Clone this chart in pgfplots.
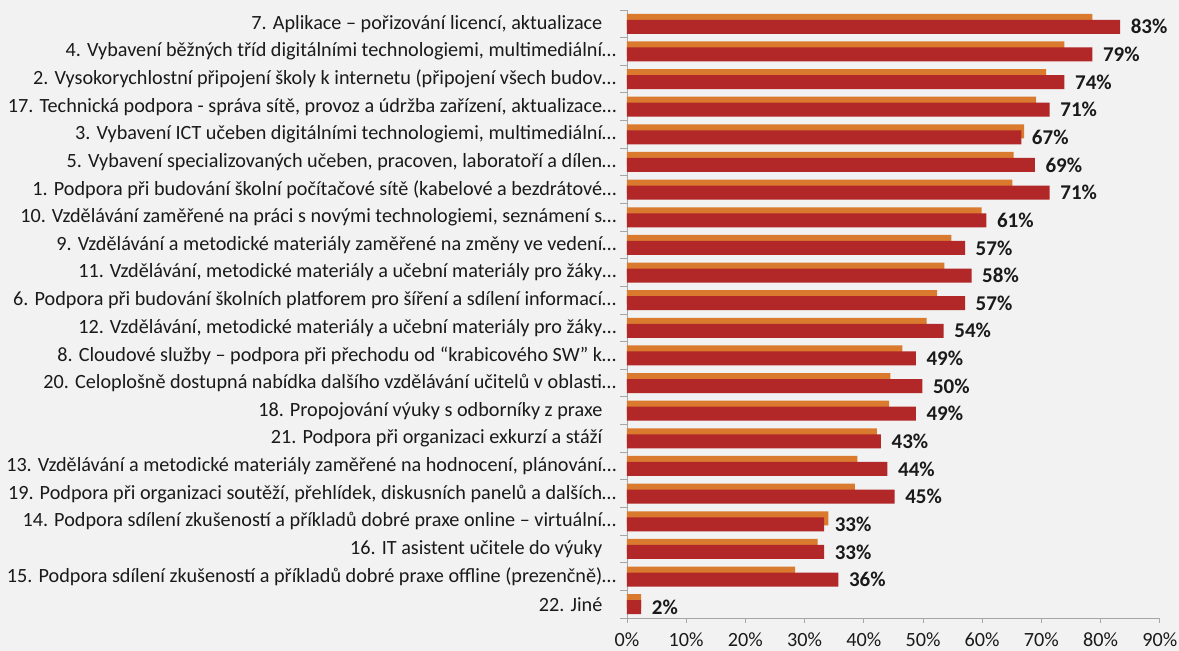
\documentclass[border=0pt]{standalone}
\usepackage{pgfplots}
\pgfplotsset{compat=1.18}
\usepackage{pgfplotstable}
\usepackage{fontspec}
\setmainfont{Carlito}
\definecolor{bg}{HTML}{F2F2F2}
\definecolor{orng}{HTML}{D97A2E}
\definecolor{rd}{HTML}{B22727}
\definecolor{axgray}{HTML}{A6A6A6}
\definecolor{txt}{HTML}{1A1A1A}
\newcommand\fs{\fontsize{20.2}{24}\selectfont}
\newcommand\fb{\fontsize{21}{25}\selectfont\bfseries}

\pgfplotstableread{
y org red lbl
21 78.6 83.3 83
20 73.9 78.6 79
19 70.8 73.9 74
18 69.1 71.4 71
17 67.1 66.6 67
16 65.3 68.9 69
15 65.1 71.4 71
14 59.9 60.7 61
13 54.8 57.1 57
12 53.6 58.2 58
11 52.4 57.1 57
10 50.6 53.5 54
9 46.5 48.8 49
8 44.5 49.9 50
7 44.3 48.8 49
6 42.2 42.9 43
5 38.9 44.0 44
4 38.5 45.2 45
3 34.0 33.3 33
2 32.2 33.3 33
1 28.4 35.7 36
0 2.4 2.4 2
}\data

\begin{document}
\begin{tikzpicture}[x=1pt,y=1pt]
\path[use as bounding box, fill=bg] (-627,-33) rectangle (552,618);
\begin{axis}[
  scale only axis, width=532.8pt, height=608pt,
  xbar, bar width=14pt,
  xmin=0, xmax=90, ymin=-0.5, ymax=21.5,
  axis x line*=bottom, axis y line*=left,
  axis line style={axgray, line width=0.9pt},
  clip=false,
  tick align=outside, major tick length=5pt, minor tick length=6.5pt,
  xtick={0,10,...,90},
  xticklabels={0\%,10\%,20\%,30\%,40\%,50\%,60\%,70\%,80\%,90\%},
  every major x tick/.append style={axgray, line width=0.9pt},
  ytick={0,...,21},
  every major y tick/.append style={draw=none},
  minor ytick={-0.5,0.5,...,21.5},
  every minor y tick/.append style={axgray, line width=0.9pt},
  yticklabels={
    {22. Jiné\hphantom{…}},
    {15. Podpora sdílení zkušeností a příkladů dobré praxe offline (prezenčně)…},
    {16. IT asistent učitele do výuky\hphantom{…}},
    {14. Podpora sdílení zkušeností a příkladů dobré praxe online – virtuální…},
    {19. Podpora při organizaci soutěží, přehlídek, diskusních panelů a dalších…},
    {13. Vzdělávání a metodické materiály zaměřené na hodnocení, plánování…},
    {21. Podpora při organizaci exkurzí a stáží\hphantom{…}},
    {18. Propojování výuky s odborníky z praxe\hphantom{…}},
    {20. Celoplošně dostupná nabídka dalšího vzdělávání učitelů v oblasti…},
    {8. Cloudové služby – podpora při přechodu od “krabicového SW” k…},
    {12. Vzdělávání, metodické materiály a učební materiály pro žáky…},
    {6. Podpora při budování školních platforem pro šíření a sdílení informací…},
    {11. Vzdělávání, metodické materiály a učební materiály pro žáky…},
    {9. Vzdělávání a metodické materiály zaměřené na změny ve vedení…},
    {10. Vzdělávání zaměřené na práci s novými technologiemi, seznámení s…},
    {1. Podpora při budování školní počítačové sítě (kabelové a bezdrátové…},
    {5. Vybavení specializovaných učeben, pracoven, laboratoří a dílen…},
    {3. Vybavení ICT učeben digitálními technologiemi, multimediální…},
    {17. Technická podpora - správa sítě, provoz a údržba zařízení, aktualizace…},
    {2. Vysokorychlostní připojení školy k internetu (připojení všech budov…},
    {4. Vybavení běžných tříd digitálními technologiemi, multimediální…},
    {7. Aplikace – pořizování licencí, aktualizace\hphantom{…}}
  },
  yticklabel style={font=\fs, text=txt, inner sep=0pt, anchor=east, xshift=-5.5pt},
  xticklabel style={font=\fs, text=txt, yshift=-6pt},
]
\addplot[fill=orng, draw=none, bar shift=3pt] table[x=org,y=y]{\data};
\addplot[fill=rd, draw=none, bar shift=-3pt,
  point meta=explicit symbolic,
  nodes near coords={\pgfplotspointmeta\%},
  every node near coord/.append style={anchor=west, inner sep=0pt, xshift=10.5pt, font=\fb, text=txt}]
  table[x=red,y=y,meta=lbl]{\data};
\end{axis}
\end{tikzpicture}
\end{document}
